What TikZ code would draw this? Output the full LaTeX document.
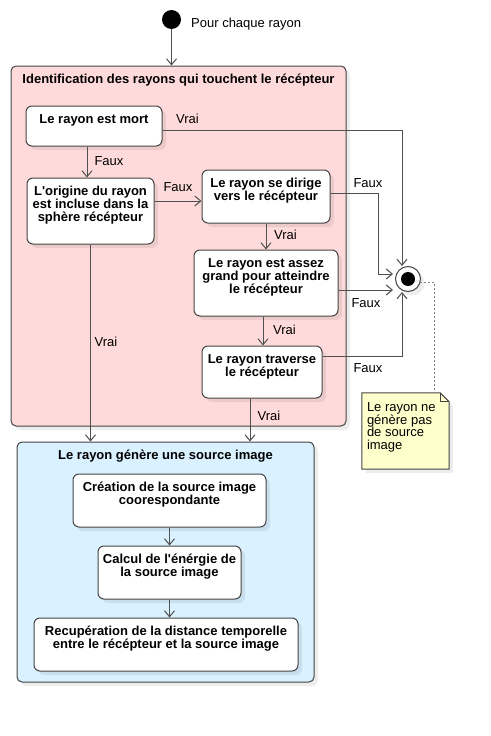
\documentclass[tikz,border=0pt]{standalone}
\usepackage{fontspec}
\setmainfont{Liberation Sans}
\usetikzlibrary{arrows.meta,shadows}
\definecolor{redfill}{RGB}{255,218,218}
\definecolor{bluefill}{RGB}{218,241,255}
\definecolor{notefill}{RGB}{255,255,204}
\definecolor{edge}{RGB}{68,68,68}
\definecolor{wire}{RGB}{80,80,80}
\begin{document}
\begin{tikzpicture}[x=1pt,y=-1pt,
  every node/.style={font=\fontsize{13}{13}\selectfont},
  shad/.style={drop shadow={shadow xshift=4pt,shadow yshift=-4pt,fill=black,opacity=0.07}},
  cont/.style={draw=edge,line width=1pt,rounded corners=5pt,inner sep=0pt,shad},
  box/.style={draw=edge,fill=white,line width=1pt,rounded corners=6pt,inner sep=0pt,shad},
  ttl/.style={anchor=north,yshift=-7.5pt,inner sep=0pt,align=center,font=\fontsize{13}{13}\selectfont\bfseries},
  arr/.style={draw=wire,line width=1pt,-{Straight Barb[length=6pt,width=10pt]}},
  lab/.style={anchor=base,inner sep=0pt,font=\fontsize{13}{13}\selectfont},
  dots/.style={draw=gray,line width=1pt,dash pattern=on 2pt off 2pt}]
\fill[white] (0,0) rectangle (490,736);
\useasboundingbox (0,0) rectangle (490,736);

% start
\node[circle,fill=black,minimum size=19pt,inner sep=0pt] (start) at (171.5,19.5) {};
\node[anchor=base west,inner sep=0pt] (startT) at (191,27.3) {Pour chaque rayon};

% containers
\node[cont,fill=redfill,minimum width=335pt,minimum height=360pt] (red) at (178.5,246) {};
\node[ttl] (redT) at (red.north) {\rule{0pt}{10pt}Identification des rayons qui touchent le récépteur};
\node[cont,fill=bluefill,minimum width=297pt,minimum height=240pt] (blue) at (165.5,562) {};
\node[ttl] (blueT) at (blue.north) {\rule{0pt}{10pt}Le rayon génère une source image};

% boxes
\node[box,minimum width=136pt,minimum height=40pt] (mort) at (94,126) {};
\node[ttl] (mortT) at (mort.north) {\rule{0pt}{10pt}Le rayon est mort};
\node[box,minimum width=127pt,minimum height=66pt] (orig) at (90.5,211) {};
\node[ttl] (origT) at (orig.north) {\rule{0pt}{10pt}L\textquotesingle origine du rayon\\est incluse dans la\\sphère récépteur};
\node[box,minimum width=128pt,minimum height=53pt] (dirige) at (266,196.5) {};
\node[ttl] (dirigeT) at (dirige.north) {\rule{0pt}{10pt}Le rayon se dirige\\vers le récépteur};
\node[box,minimum width=144pt,minimum height=66pt] (assez) at (266,283) {};
\node[ttl] (assezT) at (assez.north) {\rule{0pt}{10pt}Le rayon est assez\\grand pour atteindre\\le récépteur};
\node[box,minimum width=120pt,minimum height=52pt] (trav) at (262,372) {};
\node[ttl] (travT) at (trav.north) {\rule{0pt}{10pt}Le rayon traverse\\le récépteur};

\node[box,minimum width=193pt,minimum height=53pt] (crea) at (169.5,500.5) {};
\node[ttl] (creaT) at (crea.north) {\rule{0pt}{10pt}Création de la source image\\coorespondante};
\node[box,minimum width=143pt,minimum height=53pt] (calc) at (169.5,572.5) {};
\node[ttl] (calcT) at (calc.north) {\rule{0pt}{10pt}Calcul de l\textquotesingle énérgie de\\la source image};
\node[box,minimum width=264pt,minimum height=53pt] (recup) at (166,644.5) {};
\node[ttl] (recupT) at (recup.north) {\rule{0pt}{10pt}Recupération de la distance temporelle\\entre le récépteur et la source image};

% final node
\node[circle,draw=edge,fill=white,line width=1pt,minimum size=25pt,inner sep=0pt,shad] (final) at (408,279) {};
\node[circle,fill=black,minimum size=14pt,inner sep=0pt] (finalIn) at (final.center) {};
\coordinate (fT) at ([shift={(-6,-13)}]final.center);
\coordinate (fB) at ([shift={(-6,13)}]final.center);
\coordinate (fL1) at ([shift={(-15,-5)}]final.center);
\coordinate (fL2) at ([shift={(-15,11)}]final.center);

% note
\node[minimum width=87pt,minimum height=76pt,inner sep=0pt] (note) at (405.5,431) {};
\draw[draw=edge,fill=notefill,line width=1pt,shad] (note.north west) -- ([xshift=-9pt]note.north east) -- ([yshift=-9pt]note.north east) -- (note.south east) -- (note.south west) -- cycle;
\draw[draw=edge,line width=1pt] ([xshift=-9pt]note.north east) |- ([yshift=-9pt]note.north east);
\node[anchor=north west,inner sep=0pt,align=left,font=\fontsize{13}{12.7}\selectfont] (noteT) at ([shift={(5,8.5)}]note.north west) {\rule{0pt}{10pt}Le rayon ne\\génère pas\\de source\\image};
\draw[dots] ([shift={(12,3)}]final.center) -| ([xshift=28.5pt]note.north);

% connectors
\draw[arr] (start) -- (start |- red.north);
\draw[arr] ([xshift=-7pt]mort.south) -- ([xshift=-7pt]mort.south |- orig.north);
\draw[arr] ([yshift=10pt]orig.east) -- ([yshift=10pt]orig.east -| dirige.west);
\draw[arr] (dirige.south) -- (dirige.south |- assez.north);
\draw[arr] ([xshift=1pt]trav.north |- assez.south) -- ([xshift=1pt]trav.north);
\draw[arr] ([xshift=-12pt]trav.south) -- ([xshift=-12pt]trav.south |- blue.north);
\draw[arr] (orig.south) -- (orig.south |- blue.north);
\draw[arr] (crea.south) -- (crea.south |- calc.north);
\draw[arr] (calc.south) -- (calc.south |- recup.north);

\draw[arr] ([yshift=-4pt]mort.east) -| (fT);
\draw[arr] ([yshift=3.5pt]dirige.east) -- ++(48,0) |- (fL1);
\draw[arr] ([yshift=-7pt]assez.east) -- (fL2);
\draw[arr] ([yshift=16pt]trav.east) -| (fB);

% connector labels
\node[lab] (l1) at (187.5,123.5) {Vrai};
\node[lab] (l2) at (109,165.5) {Faux};
\node[lab] (l3) at (178,191.5) {Faux};
\node[lab] (l4) at (368,187.5) {Faux};
\node[lab] (l5) at (285.5,239.5) {Vrai};
\node[lab] (l6) at (366,307.5) {Faux};
\node[lab] (l7) at (284.5,334.5) {Vrai};
\node[lab] (l8) at (368,372.5) {Faux};
\node[lab] (l9) at (269,420.5) {Vrai};
\node[lab] (l10) at (106,346.5) {Vrai};
\end{tikzpicture}
\end{document}
